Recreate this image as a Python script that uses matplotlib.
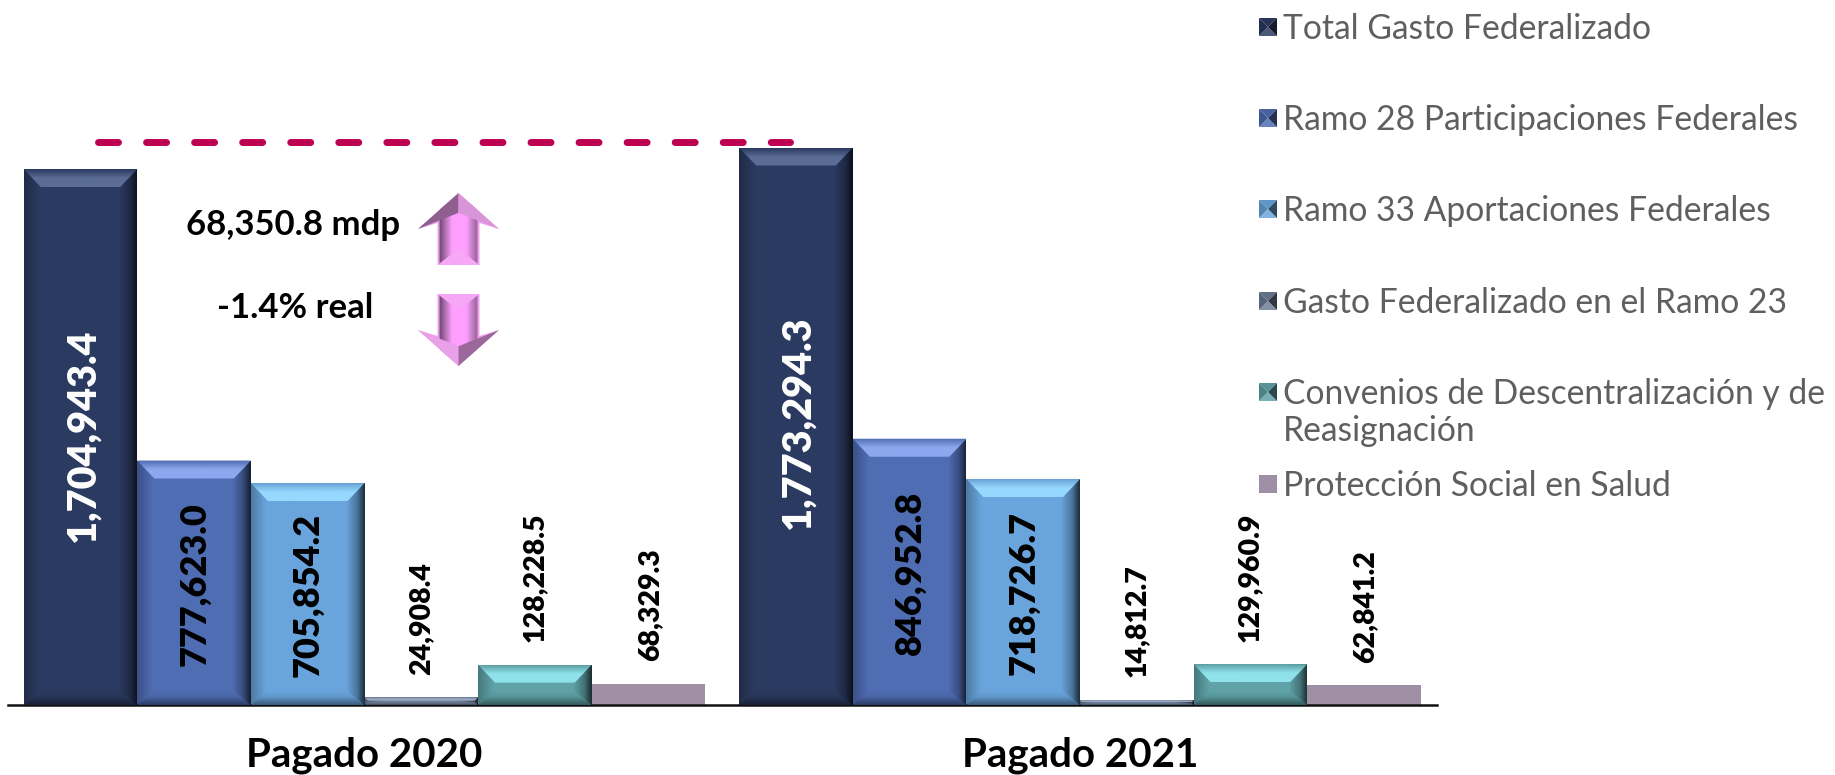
import numpy as np
import matplotlib
matplotlib.use("Agg")
import matplotlib.pyplot as plt
from matplotlib.colors import to_rgb
from matplotlib.patches import Polygon, Rectangle

groups = ["Pagado 2020", "Pagado 2021"]
series = ["Total Gasto Federalizado", "Ramo 28 Participaciones Federales", "Ramo 33 Aportaciones Federales",
          "Gasto Federalizado en el Ramo 23", "Convenios de Descentralización y de\nReasignación",
          "Protección Social en Salud"]
values_2020 = [1704943.4, 777623.0, 705854.2, 24908.4, 128228.5, 68329.3]
values_2021 = [1773294.3, 846952.8, 718726.7, 14812.7, 129960.9, 62841.2]
colors = ["#2B3A60", "#4F6DB3", "#69A5DC", "#6D7C96", "#5FA2A7", "#9F8FA5"]
bevel_light = ["#5B6D95", "#8CA8EE", "#97D8FF", "#9AA8C0", "#8FE2EA", "#9F8FA5"]
delta_text = "68,350.8 mdp"
real_text = "-1.4% real"

# label centres in image pixels (x, y), same order as the values
label_px_2020 = [(83, 436), (195, 584), (308, 595), (421, 619), (535, 577), (650, 605)]
label_px_2021 = [(798, 423), (910, 573), (1024, 593), (1137, 621), (1250, 577), (1365, 607)]
label_size = [28.5, 26, 26, 20.5, 20.5, 20.5]

W, H = 1835, 775
plt.rcParams["font.family"] = ["Lato", "DejaVu Sans"]
fig = plt.figure(figsize=(W / 100, H / 100), dpi=100)

# main axes: baseline at y=705 px, spans x 8..1437 px
left, right, base, top = 8, 1437, 705, 100
first_center = 364.5
ax = fig.add_axes([left / W, 1 - base / H, (right - left) / W, (base - top) / H])
px_per_unit = 536 / 1704943.4
spacing = 715.5
bar_w = 113.6 / spacing
dx = 1 / spacing
dy = 1 / px_per_unit


def mix(c, t, f):
    c, t = np.array(to_rgb(c)), np.array(to_rgb(t))
    return c + (t - c) * f


def grad_fill(axx, poly, stops, extent, horizontal=False, zorder=3):
    # gradient image clipped to a polygon
    n = 64
    pos = [s[0] for s in stops]
    cols = np.array([s[1] for s in stops])
    t = np.linspace(0, 1, n)
    arr = np.stack([np.interp(t, pos, cols[:, i]) for i in range(cols.shape[1])], axis=1)
    arr = arr[None, :, :] if horizontal else arr[:, None, :]
    im = axx.imshow(arr, extent=extent, aspect="auto", origin="lower", zorder=zorder, interpolation="bilinear")
    patch = Polygon(poly, closed=True, transform=axx.transData, fc="none", ec="none")
    axx.add_patch(patch)
    im.set_clip_path(patch)


def bevel(bar, color, light):
    x0, w, h = bar.get_x(), bar.get_width(), bar.get_height()
    x1 = x0 + w
    b = 17 * dx
    tb = min(18, h / dy * 0.45) * dy
    bb = min(14, h / dy * 0.35) * dy
    sb = min(b, tb / dy * dx)
    clear = (0, 0, 0, 0)
    ext = [x0, x1, 0, h]
    # sides darken to the edges
    grad_fill(ax, [(x0, 0), (x1, 0), (x1, h), (x0, h)],
              [(0, (0, 0, 0, 0.25)), (0.13, clear), (0.84, clear), (0.94, (0, 0, 0, 0.3)), (1, (0, 0, 0, 0.7))],
              ext, horizontal=True)
    # top bevel
    lo = tuple(to_rgb(light))
    hi = tuple(mix(color, "#000000", 0.02))
    grad_fill(ax, [(x0, h), (x1, h), (x1 - sb, h - tb), (x0 + sb, h - tb)],
              [(0, lo), (0.5, lo), (1, hi)], [x0, x1, h - tb, h], zorder=4)
    # bottom bevel
    lo = tuple(mix(color, "#000000", 0.45))
    hi = tuple(mix(color, "#000000", 0.08))
    grad_fill(ax, [(x0, 0), (x1, 0), (x1 - sb, bb), (x0 + sb, bb)],
              [(0, lo), (0.6, hi), (1, tuple(to_rgb(color)))], [x0, x1, 0, bb], zorder=4)


x_pos = np.arange(len(groups))
for i, col in enumerate(colors):
    vals = [values_2020[i], values_2021[i]]
    bars = ax.bar(x_pos + (i - 2.5) * bar_w, vals, width=bar_w, color=col, zorder=2, label=series[i])
    # last series is flat in the original
    if i < 5:
        for b in bars:
            bevel(b, col, bevel_light[i])

ax.set_xlim((left - first_center) / spacing, (right - first_center) / spacing)
ax.set_ylim(0, (base - top) / px_per_unit)
ax.patch.set_alpha(0)
for s in ["top", "left", "right"]:
    ax.spines[s].set_visible(False)
ax.spines["bottom"].set_linewidth(1.8)
ax.spines["bottom"].set_color("#111111")
ax.set_yticks([])
ax.set_xticks(x_pos)
ax.set_xticklabels(groups, fontsize=29, fontweight="bold", color="black")
ax.tick_params(axis="x", length=0, pad=23)

# overlay in image pixels for the notes, arrows and the legend
ov = fig.add_axes([0, 0, 1, 1])
ov.axis("off")
ov.patch.set_alpha(0)

ov.plot([97.5, 790], [142, 142], color="#BE0050", lw=5, dash_capstyle="round", linestyle=(0, (2.88, 4.04)), zorder=5)

for vals, pxs in [(values_2020, label_px_2020), (values_2021, label_px_2021)]:
    for i, v in enumerate(vals):
        ov.text(pxs[i][0], pxs[i][1], f"{v:,.1f}", rotation=90, ha="center", va="center",
                fontsize=label_size[i], fontweight="heavy", color="white" if i == 0 else "black", zorder=6)

ov.text(293, 225, delta_text, ha="center", va="center", fontsize=25, fontweight="bold", color="black")
ov.text(295, 308, real_text, ha="center", va="center", fontsize=25, fontweight="bold", color="black")


def arrow(tip, wing, end, flip=False):
    # block arrow, pointing up by default
    cx, hw, sw = 458.5, 40.5, 21
    notch = wing + 6 if flip else wing - 6
    pts = [(cx, tip), (cx + hw, wing), (cx + sw, notch), (cx + sw, end),
           (cx - sw, end), (cx - sw, notch), (cx - hw, wing)]
    dark = (0.45, 0.30, 0.45)
    pink = (1.0, 0.62, 1.0)
    wingc = (0.94, 0.62, 0.94)
    grad_fill(ov, pts, [(0, wingc), (0.26, wingc), (0.27, dark), (0.42, pink), (0.6, pink), (0.73, (0.6, 0.4, 0.6)),
                        (0.74, wingc), (1, wingc)], [cx - hw, cx + hw, min(tip, end), max(tip, end)],
              horizontal=True, zorder=5)
    # head facets
    fc_l, fc_r = ("#E8A0E8", "#9A689A") if flip else ("#8F5F8F", "#D896D8")
    mid = wing - (wing - tip) * 0.45
    ov.add_patch(Polygon([(cx, tip), (cx - hw, wing), (cx, mid)], fc=fc_l, ec="none", zorder=6))
    ov.add_patch(Polygon([(cx, tip), (cx + hw, wing), (cx, mid)], fc=fc_r, ec="none", zorder=6))
    # end bevel
    ov.add_patch(Polygon([(cx - sw, end), (cx + sw, end), (cx, end - (end - wing) * 0.45)],
                         fc="#F6A8F6", ec="none", zorder=6))


arrow(193, 229, 265)
arrow(366, 330, 294, flip=True)

# legend
rows_y = [27, 118, 209, 301, 392, 484]
for i, name in enumerate(series):
    y = rows_y[i]
    x0, x1, y0, y1 = 1259, 1277, y - 9, y + 9
    cx, cy = (x0 + x1) / 2, y
    c = colors[i]
    if i == 5:
        ov.add_patch(Rectangle((x0, y0), x1 - x0, y1 - y0, fc=c, ec="none"))
    else:
        tri = [[(x0, y0), (x1, y0), (cx, cy)], [(x0, y1), (x1, y1), (cx, cy)],
               [(x0, y0), (x0, y1), (cx, cy)], [(x1, y0), (x1, y1), (cx, cy)]]
        shade = [mix(c, "#000000", 0.1), mix(c, "#FFFFFF", 0.15), mix(c, "#000000", 0.2), mix(c, "#000000", 0.55)]
        for t, sc in zip(tri, shade):
            ov.add_patch(Polygon(t, fc=sc, ec="none"))
    ov.text(1283, y - 14, name, ha="left", va="top", fontsize=24.2, color="#5F5F5F",
            fontweight="normal", linespacing=1.2)

ov.set_xlim(0, W)
ov.set_ylim(H, 0)

fig.savefig("out.png", dpi=100)
